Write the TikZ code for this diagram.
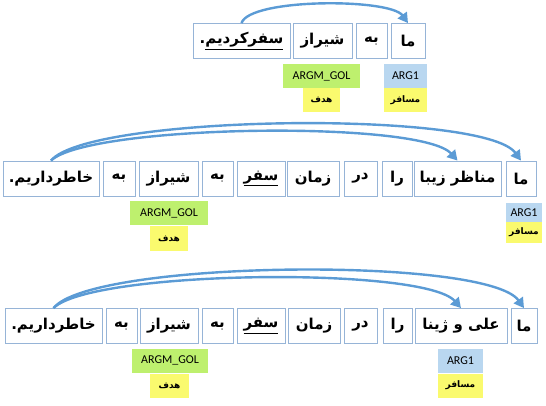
\documentclass[tikz,border=0pt]{standalone}
\usepackage{fontspec}
\usetikzlibrary{arrows.meta}
\newfontfamily\farsi[Script=Arabic]{DejaVu Sans}
\newfontfamily\latinlab{Carlito}
\TeXXeTstate=1
\newcommand{\fa}[1]{\beginR #1\endR}
\definecolor{boxline}{RGB}{150,180,215}
\definecolor{arcblue}{RGB}{91,155,213}
\definecolor{rolegreen}{RGB}{190,240,110}
\definecolor{roleblue}{RGB}{185,215,240}
\definecolor{roleyellow}{RGB}{250,250,110}

\begin{document}
\begin{tikzpicture}[x=1pt,y=-1pt,
        word/.style={draw=boxline,line width=0.8pt,minimum width=#1,minimum height=35,inner sep=0pt,
                font=\farsi\bfseries\fontsize{15}{17}\selectfont},
        goal/.style={fill=rolegreen,minimum width=#1,minimum height=24,inner sep=0pt,font=\latinlab\fontsize{12}{13}\selectfont},
        agent/.style={fill=roleblue,minimum width=#1,minimum height=24,inner sep=0pt,font=\latinlab\fontsize{12}{13}\selectfont},
        gloss/.style={fill=roleyellow,minimum width=#1,minimum height=24,inner sep=0pt,font=\farsi\bfseries\fontsize{9}{10}\selectfont},
        arc/.style={draw=arcblue,line width=2.4pt,-{Triangle[length=10pt,width=11pt]}}]
        \useasboundingbox (0,0) rectangle (546,406);

        % first sentence
        \node[word=34] (Ma1) at (408,41) {\fa{ما}};
        \node[word=31] (Be1) at (371.5,41) {\fa{به}};
        \node[word=59] (Shiraz1) at (322.5,41) {\fa{شیراز}};
        \node[word=97] (Verb1) at (241.5,41) {\fa{\underline{سفرکردیم}.}};
        \node[goal=77] (Goal1) at (321.5,76) {ARGM\_GOL};
        \node[gloss=37] (Hadaf1) at (321.5,100) {\fa{هدف}};
        \node[agent=43] (Arg1) at (405.5,76) {ARG1};
        \node[gloss=43] (Mosafer1) at (405.5,100) {\fa{مسافر}};
        \draw[arc] (Verb1.north) .. controls +(8,-25) and +(-18,-25) .. (Ma1.north);

        % second sentence
        \node[word=30] (Ma2) at (521,178.5) {\fa{ما}};
        \node[word=87] (Manazer2) at (457.5,178.5) {\fa{مناظر زیبا}};
        \node[word=30] (Ra2) at (397,178.5) {\fa{را}};
        \node[word=33] (Dar2) at (360.5,178.5) {\fa{در}};
        \node[word=52] (Zaman2) at (313,178.5) {\fa{زمان}};
        \node[word=48] (Safar2) at (261,178.5) {\fa{\underline{سفر}}};
        \node[word=31] (BeB2) at (217.5,178.5) {\fa{به}};
        \node[word=59] (Shiraz2) at (168.5,178.5) {\fa{شیراز}};
        \node[word=32] (BeA2) at (119,178.5) {\fa{به}};
        \node[word=96] (Verb2) at (51,178.5) {\fa{خاطرداریم.}};
        \node[goal=78] (Goal2) at (169,213.5) {ARGM\_GOL};
        \node[gloss=38] (Hadaf2) at (169,238.5) {\fa{هدف}};
        \node[agent=36,minimum height=19] (Arg2) at (524,212.5) {ARG1};
        \node[gloss=36,minimum height=21] (Mosafer2) at (524,232.5) {\fa{مسافر}};
        \draw[arc] (Verb2.north) .. controls +(38,-46) and +(-37,-51) .. (Ma2.north);
        \draw[arc] (Verb2.north) .. controls +(38,-36) and +(-37,-41) .. (Manazer2.north);

        % third sentence
        \node[word=26] (Ma3) at (524,326) {\fa{ما}};
        \node[word=92] (Ali3) at (461,326) {\fa{علی و ژینا}};
        \node[word=29] (Ra3) at (397.5,326) {\fa{را}};
        \node[word=33] (Dar3) at (360.5,326) {\fa{در}};
        \node[word=52] (Zaman3) at (314,326) {\fa{زمان}};
        \node[word=48] (Safar3) at (261,326) {\fa{\underline{سفر}}};
        \node[word=31] (BeB3) at (217.5,326) {\fa{به}};
        \node[word=58] (Shiraz3) at (169,326) {\fa{شیراز}};
        \node[word=31] (BeA3) at (121.5,326) {\fa{به}};
        \node[word=97] (Verb3) at (53.5,326) {\fa{خاطرداریم.}};
        \node[goal=76] (Goal3) at (170,360.5) {ARGM\_GOL};
        \node[gloss=39] (Hadaf3) at (169.5,385.5) {\fa{هدف}};
        \node[agent=45] (Arg3) at (460.5,360.5) {ARG1};
        \node[gloss=45] (Mosafer3) at (460.5,385.5) {\fa{مسافر}};
        \draw[arc] (Verb3.north) .. controls +(38,-48) and +(-37,-52) .. (Ma3.north);
        \draw[arc] (Verb3.north) .. controls +(38,-38) and +(-37,-42) .. (Ali3.north);

\end{tikzpicture}
\end{document}
